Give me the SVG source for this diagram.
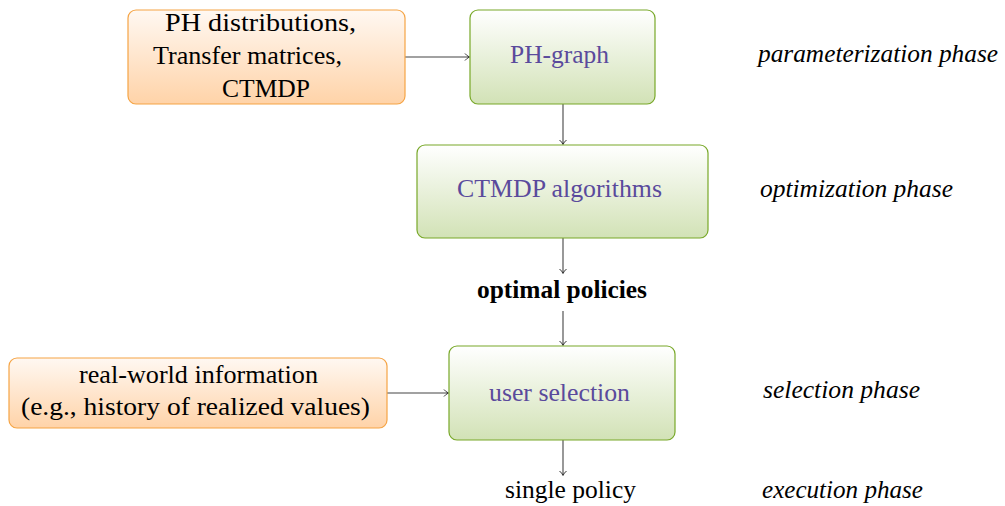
<svg xmlns="http://www.w3.org/2000/svg" width="1005" height="506" viewBox="0 0 1005 506">
<style>
text{font-family:'Liberation Serif','Times New Roman','DejaVu Serif',serif;font-size:25px;fill:#000}
.p{fill:#5a4a9c}
.ph{font-style:italic}
.b{font-weight:bold}
.o{fill:url(#og);stroke:#f5a445;stroke-width:1.2}
.g{fill:url(#gg);stroke:#78a828;stroke-width:1.2}
.e{stroke:#444;stroke-width:1.1;fill:none;marker-end:url(#ah)}
</style>
<defs>
<linearGradient id="og" x1="0" y1="0" x2="0" y2="1"><stop offset="0" stop-color="#fff8f2"/><stop offset="1" stop-color="#ffd3a8"/></linearGradient>
<linearGradient id="gg" x1="0" y1="0" x2="0" y2="1"><stop offset="0" stop-color="#ffffff"/><stop offset="1" stop-color="#d2e2b6"/></linearGradient>
<marker id="ah" markerWidth="10" markerHeight="10" refX="6" refY="5" orient="auto" markerUnits="userSpaceOnUse"><path d="M2,1.5 Q4,4 6.5,5 Q4,6 2,8.5" fill="none" stroke="#333" stroke-width="1"/></marker>
</defs>
<g id="connectors">
<path class="e" d="M405,57 H469"/>
<path class="e" d="M563,104 V144"/>
<path class="e" d="M563,238 V273"/>
<path class="e" d="M563,311 V345"/>
<path class="e" d="M387,393 H448"/>
<path class="e" d="M563,440 V475"/>
</g>
<g id="inputs">
<rect class="o" x="128" y="10" width="277" height="94" rx="8"/>
<text x="165" y="31" textLength="191" lengthAdjust="spacingAndGlyphs">PH distributions,</text>
<text x="153" y="64" textLength="189" lengthAdjust="spacingAndGlyphs">Transfer matrices,</text>
<text x="222" y="97" textLength="88" lengthAdjust="spacingAndGlyphs">CTMDP</text>
</g>
<g id="phgraph">
<rect class="g" x="470" y="10" width="185" height="94" rx="8"/>
<text class="p" x="510" y="63" textLength="99" lengthAdjust="spacingAndGlyphs">PH-graph</text>
</g>
<g id="ctmdp">
<rect class="g" x="417" y="145" width="291" height="93" rx="8"/>
<text class="p" x="457" y="197" textLength="205" lengthAdjust="spacingAndGlyphs">CTMDP algorithms</text>
</g>
<g id="optimal">
<text class="b" x="477" y="298" textLength="170" lengthAdjust="spacingAndGlyphs">optimal policies</text>
</g>
<g id="realworld">
<rect class="o" x="9" y="358" width="378" height="70" rx="8"/>
<text x="79" y="383" textLength="239" lengthAdjust="spacingAndGlyphs">real-world information</text>
<text x="21" y="415" textLength="349" lengthAdjust="spacingAndGlyphs">(e.g., history of realized values)</text>
</g>
<g id="userselection">
<rect class="g" x="449" y="346" width="226" height="94" rx="8"/>
<text class="p" x="489" y="401" textLength="141" lengthAdjust="spacingAndGlyphs">user selection</text>
</g>
<g id="single">
<text x="505" y="498" textLength="131" lengthAdjust="spacingAndGlyphs">single policy</text>
</g>
<g id="phases">
<text class="ph" x="758" y="62" textLength="240" lengthAdjust="spacingAndGlyphs">parameterization phase</text>
<text class="ph" x="760" y="197" textLength="193" lengthAdjust="spacingAndGlyphs">optimization phase</text>
<text class="ph" x="763" y="398" textLength="157" lengthAdjust="spacingAndGlyphs">selection phase</text>
<text class="ph" x="762" y="498" textLength="161" lengthAdjust="spacingAndGlyphs">execution phase</text>
</g>
</svg>
